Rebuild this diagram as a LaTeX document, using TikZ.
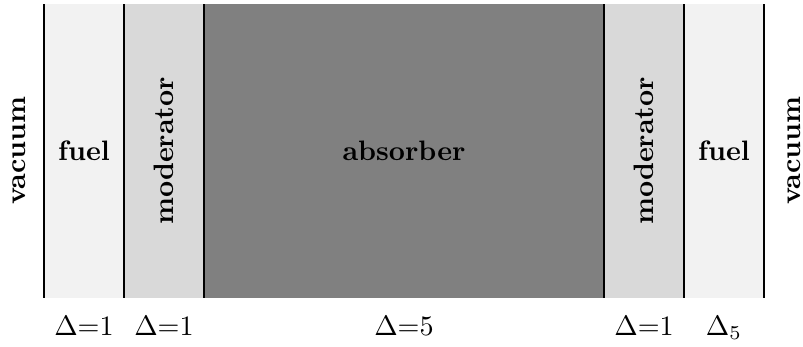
\documentclass[tikz,border=0pt]{standalone}
\usetikzlibrary{positioning}
\tikzset{layer/.style={rectangle,inner sep=0pt,outer sep=0pt,minimum height=3.675cm,anchor=south west},wall/.style={draw=black,line width=0.9pt},matname/.style={font=\bfseries,text=black},widthlabel/.style={text=black}}

\begin{document}
\begin{tikzpicture}[x=1cm,y=1cm]
\useasboundingbox (-0.55,-0.6125) rectangle (9.4875,3.725);
\node[layer,fill=gray!10,minimum width=1cm] (FuelL) at (0,0) {};\node[layer,fill=gray!30,minimum width=1cm,right=0pt of FuelL] (ModL) {};\node[layer,fill=gray,minimum width=5cm,right=0pt of ModL] (Absorber) {};\node[layer,fill=gray!30,minimum width=1cm,right=0pt of Absorber] (ModR) {};\node[layer,fill=gray!10,minimum width=1cm,right=0pt of ModR] (FuelR) {};
\draw[wall] (FuelL.south west)--(FuelL.north west);\draw[wall] (ModL.south west)--(ModL.north west);\draw[wall] (Absorber.south west)--(Absorber.north west);\draw[wall] (ModR.south west)--(ModR.north west);\draw[wall] (FuelR.south west)--(FuelR.north west);\draw[wall] (FuelR.south east)--(FuelR.north east);
\node[matname] (FuelLText) at (FuelL.center) {fuel};\node[matname,rotate=90] (ModLText) at (ModL.center) {moderator};\node[matname] (AbsorberText) at (Absorber.center) {absorber};\node[matname,rotate=90] (ModRText) at (ModR.center) {moderator};\node[matname] (FuelRText) at (FuelR.center) {fuel};
\node[matname,rotate=90] (VacL) at (-0.31,1.84) {vacuum};\node[matname,rotate=90] (VacR) at (9.38,1.84) {vacuum};
\node[widthlabel,below=0.1cm of FuelL] (FuelLW) {$\Delta$=1};\node[widthlabel,below=0.1cm of ModL] (ModLW) {$\Delta$=1};\node[widthlabel,below=0.1cm of Absorber] (AbsorberW) {$\Delta$=5};\node[widthlabel,below=0.1cm of ModR] (ModRW) {$\Delta$=1};\node[widthlabel,below=0.1cm of FuelR] (FuelRW) {$\Delta_5$};
\end{tikzpicture}
\end{document}
